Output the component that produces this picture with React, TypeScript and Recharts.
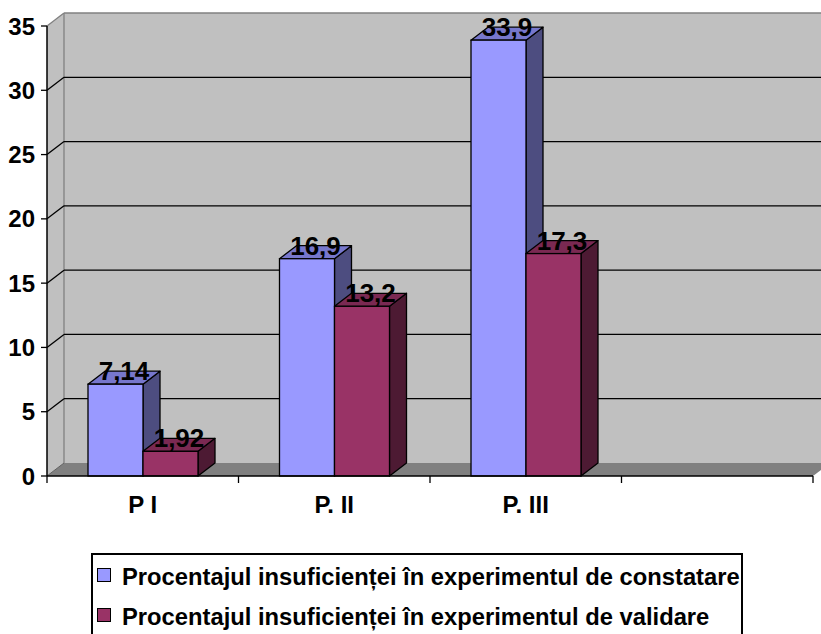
import React from 'react';
import { BarChart, Bar, XAxis, YAxis, CartesianGrid, LabelList } from 'recharts';

// ---- data ----
const categories = ['P I', 'P. II', 'P. III', ''];
const constatare = [7.14, 16.9, 33.9, null];
const validare = [1.92, 13.2, 17.3, null];
const yTicks = [0, 5, 10, 15, 20, 25, 30, 35];
const seriesNames = [
  'Procentajul insuficienței în experimentul de constatare',
  'Procentajul insuficienței în experimentul de validare',
];

const data = categories.map((c, i) => ({
  name: c,
  constatare: constatare[i],
  validare: validare[i],
}));

// ---- styles ----
const FONT = '"Liberation Sans", Arial, Helvetica, sans-serif';
const W = 821;
const H = 634;
const PLOT_TOP = 26;
const PLOT_BOTTOM = 476;
const PLOT_LEFT = 47;
const PLOT_RIGHT = 813;
const DX = 17;
const DY = 13;

const COLORS = [
  { front: '#9999FF', top: '#7777CC', side: '#4D4D80' },
  { front: '#993366', top: '#7A2952', side: '#4D1A33' },
];

const make3DBar = (c: { front: string; top: string; side: string }) => (props: any) => {
  const { x, y, width, height } = props;
  if (x == null || y == null || !isFinite(height) || !isFinite(width) || width <= 0) return null;
  const sw = 1.3;
  return (
    <g>
      <polygon
        points={`${x + width},${y} ${x + width + DX},${y - DY} ${x + width + DX},${y + height - DY} ${x + width},${y + height}`}
        fill={c.side}
        stroke="#000"
        strokeWidth={sw}
        strokeLinejoin="round"
      />
      <polygon
        points={`${x},${y} ${x + DX},${y - DY} ${x + width + DX},${y - DY} ${x + width},${y}`}
        fill={c.top}
        stroke="#000"
        strokeWidth={sw}
        strokeLinejoin="round"
      />
      <rect x={x} y={y} width={width} height={height} fill={c.front} stroke="#000" strokeWidth={sw} />
    </g>
  );
};

const renderLabel = (props: any) => {
  const vb = props.viewBox || props;
  const x = vb.x ?? props.x;
  const y = vb.y ?? props.y;
  const width = vb.width ?? props.width;
  const { value } = props;
  if (value == null || x == null) return null;
  return (
    <text
      x={x + width / 2 + DX / 2}
      y={y - 4}
      textAnchor="middle"
      fontSize={26}
      fontWeight="bold"
      fill="#000"
      fontFamily={FONT}
    >
      {String(value).replace('.', ',')}
    </text>
  );
};

const renderGridLine = (props: any) => {
  const { x1, x2, y1, index } = props;
  const px = props.x ?? x1;
  const pw = props.width ?? x2 - x1;
  const py = props.y ?? PLOT_TOP;
  const ph = props.height ?? PLOT_BOTTOM - PLOT_TOP;
  const bottom = py + ph;
  const right = px + pw;
  const walls =
    index === 0 ? (
      <g>
        {/* back wall */}
        <rect x={px + DX} y={py - DY} width={pw + 20} height={ph} fill="#C0C0C0" />
        {/* left wall */}
        <polygon
          points={`${px},${py} ${px + DX},${py - DY} ${px + DX},${bottom - DY} ${px},${bottom}`}
          fill="#C0C0C0"
        />
        {/* floor */}
        <polygon
          points={`${px},${bottom} ${px + DX},${bottom - DY} ${right + DX},${bottom - DY} ${right},${bottom}`}
          fill="#808080"
        />
        <line x1={px} y1={bottom} x2={px + DX} y2={bottom - DY} stroke="#606060" strokeWidth={1} />
        <line x1={px + DX} y1={py - DY} x2={px + DX} y2={bottom - DY} stroke="#808080" strokeWidth={1.3} />
      </g>
    ) : null;
  let line = null;
  if (Math.abs(y1 - py) < 1) {
    line = (
      <g>
        <line x1={px} y1={y1} x2={px + DX} y2={y1 - DY} stroke="#808080" strokeWidth={1.3} />
        <line x1={px + DX} y1={y1 - DY} x2={right + DX + 20} y2={y1 - DY} stroke="#808080" strokeWidth={1.5} />
      </g>
    );
  } else if (Math.abs(y1 - bottom) >= 1) {
    line = (
      <g>
        <line x1={px} y1={y1} x2={px + DX} y2={y1 - DY} stroke="#000" strokeWidth={1.3} />
        <line x1={px + DX} y1={y1 - DY} x2={right + DX + 20} y2={y1 - DY} stroke="#000" strokeWidth={1.3} />
      </g>
    );
  }
  return (
    <g key={`gl-${index}`}>
      {walls}
      {line}
    </g>
  );
};

const renderXTick = (props: any) => {
  const { x, y, payload, index } = props;
  const half = payload && payload.offset > 0 ? payload.offset : (PLOT_RIGHT - PLOT_LEFT) / categories.length / 2;
  return (
    <g>
      <line x1={x - half} y1={y} x2={x - half} y2={y + 7} stroke="#000" strokeWidth={1.3} />
      {index === categories.length - 1 && (
        <line x1={x + half} y1={y} x2={x + half} y2={y + 7} stroke="#000" strokeWidth={1.3} />
      )}
      <text x={x} y={y + 37} textAnchor="middle" fontSize={24} fontWeight="bold" fill="#000" fontFamily={FONT}>
        {payload.value}
      </text>
    </g>
  );
};

const Legend3D = () => (
  <div
    style={{
      position: 'absolute',
      left: 91,
      top: 553,
      width: 652,
      height: 110,
      border: '2px solid #000',
      boxSizing: 'border-box',
      background: '#fff',
    }}
  >
    {seriesNames.map((name, i) => (
      <div key={name}>
        <div
          style={{
            position: 'absolute',
            left: 4,
            top: 13 + i * 40,
            width: 14,
            height: 14,
            boxSizing: 'border-box',
            border: '1px solid #000',
            background: COLORS[i].front,
          }}
        />
        <div
          style={{
            position: 'absolute',
            left: 29,
            top: 9.8 + i * 40,
            fontFamily: FONT,
            fontWeight: 'bold',
            fontSize: 23.75,
            lineHeight: '24px',
            whiteSpace: 'nowrap',
            color: '#000',
          }}
        >
          {name}
        </div>
      </div>
    ))}
  </div>
);

export default function App() {
  return (
    <div
      style={{
        position: 'absolute',
        left: 0,
        top: 0,
        width: W,
        height: H,
        overflow: 'hidden',
        background: '#fff',
        fontFamily: FONT,
      }}
    >
      <BarChart
        width={W}
        height={H}
        data={data}
        margin={{ top: PLOT_TOP, right: W - PLOT_RIGHT, bottom: H - PLOT_BOTTOM - 40, left: 0 }}
        barGap={0}
        barSize={55}
      >
        <CartesianGrid vertical={false} horizontal={renderGridLine} fill="none" />
        <XAxis
          dataKey="name"
          interval={0}
          height={40}
          axisLine={{ stroke: '#000', strokeWidth: 1.5 }}
          tickLine={false}
          tickSize={0}
          tickMargin={0}
          tick={renderXTick}
        />
        <YAxis
          width={PLOT_LEFT}
          domain={[0, 35]}
          ticks={yTicks}
          interval={0}
          axisLine={{ stroke: '#000', strokeWidth: 1.5 }}
          tickLine={{ stroke: '#000', strokeWidth: 1.3 }}
          tickSize={6}
          tickMargin={6}
          tick={{ fill: '#000', fontSize: 24, fontWeight: 'bold', fontFamily: FONT }}
        />
        <Bar dataKey="constatare" name={seriesNames[0]} fill={COLORS[0].front} isAnimationActive={false} shape={make3DBar(COLORS[0])}>
          <LabelList dataKey="constatare" content={renderLabel} />
        </Bar>
        <Bar dataKey="validare" name={seriesNames[1]} fill={COLORS[1].front} isAnimationActive={false} shape={make3DBar(COLORS[1])}>
          <LabelList dataKey="validare" content={renderLabel} />
        </Bar>
      </BarChart>
      <Legend3D />
    </div>
  );
}
